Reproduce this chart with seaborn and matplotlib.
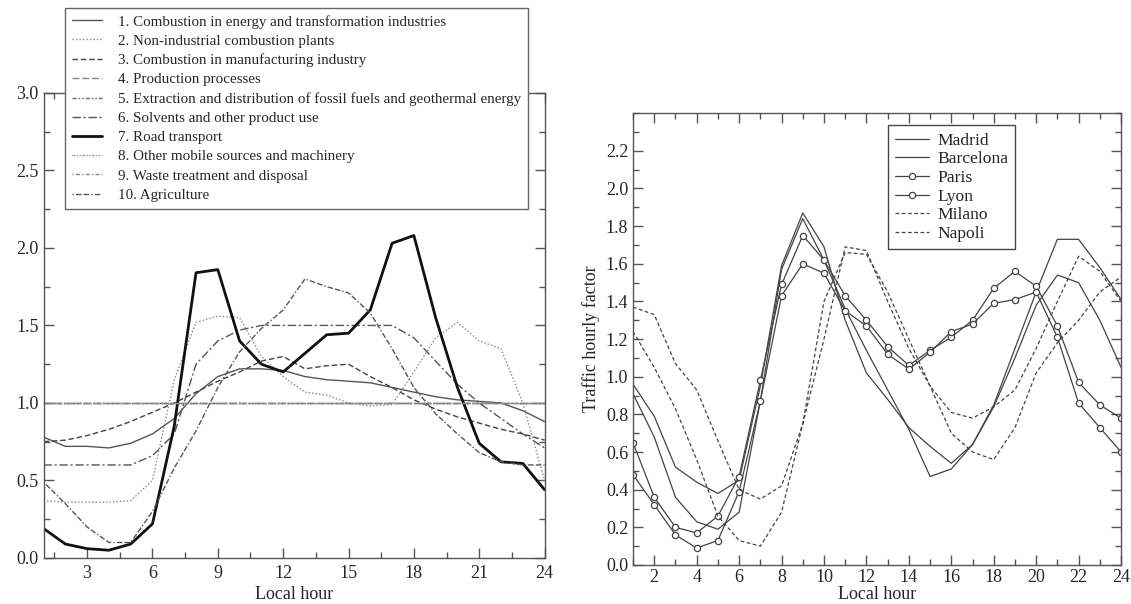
import numpy as np
import pandas as pd
import matplotlib.pyplot as plt
import seaborn as sns
from matplotlib.ticker import MultipleLocator

# ==========================================
# data
# ==========================================
hours = list(range(1, 25))

sector_names = [
    '1. Combustion in energy and transformation industries',
    '2. Non-industrial combustion plants',
    '3. Combustion in manufacturing industry',
    '4. Production processes',
    '5. Extraction and distribution of fossil fuels and geothermal energy',
    '6. Solvents and other product use',
    '7. Road transport',
    '8. Other mobile sources and machinery',
    '9. Waste treatment and disposal',
    '10. Agriculture',
]
energy = [0.78, 0.72, 0.72, 0.71, 0.74, 0.80, 0.90, 1.06, 1.17, 1.22, 1.22, 1.21,
          1.17, 1.15, 1.14, 1.13, 1.10, 1.07, 1.04, 1.02, 1.01, 1.00, 0.95, 0.88]
non_industrial = [0.37, 0.36, 0.36, 0.36, 0.37, 0.50, 1.15, 1.52, 1.56, 1.55, 1.30, 1.17,
                  1.07, 1.05, 1.00, 0.98, 0.99, 1.20, 1.42, 1.52, 1.40, 1.35, 1.00, 0.50]
manufacturing = [0.75, 0.76, 0.79, 0.83, 0.88, 0.94, 1.00, 1.07, 1.14, 1.20, 1.27, 1.30,
                 1.22, 1.24, 1.25, 1.17, 1.10, 1.02, 0.96, 0.91, 0.87, 0.83, 0.80, 0.76]
production = [1.0] * 24
extraction = [1.0] * 24
solvents = [0.60, 0.60, 0.60, 0.60, 0.60, 0.66, 0.80, 1.25, 1.40, 1.47, 1.50, 1.50,
            1.50, 1.50, 1.50, 1.50, 1.50, 1.42, 1.27, 1.12, 1.00, 0.90, 0.80, 0.71]
road = [0.19, 0.09, 0.06, 0.05, 0.09, 0.22, 0.85, 1.84, 1.86, 1.40, 1.25, 1.20,
        1.32, 1.44, 1.45, 1.60, 2.03, 2.08, 1.55, 1.10, 0.74, 0.62, 0.61, 0.44]
other_mobile = [1.0] * 24
waste = [1.0] * 24
agriculture = [0.49, 0.35, 0.20, 0.10, 0.10, 0.30, 0.58, 0.82, 1.10, 1.33, 1.48, 1.60,
               1.80, 1.75, 1.71, 1.58, 1.35, 1.10, 0.93, 0.80, 0.68, 0.62, 0.60, 0.60]

city_names = ['Madrid', 'Barcelona', 'Paris', 'Lyon', 'Milano', 'Napoli']
madrid = [0.96, 0.79, 0.52, 0.44, 0.38, 0.45, 0.95, 1.59, 1.87, 1.69, 1.30, 1.02,
          0.88, 0.73, 0.63, 0.54, 0.64, 0.85, 1.15, 1.45, 1.73, 1.73, 1.58, 1.41]
barcelona = [0.91, 0.68, 0.36, 0.23, 0.19, 0.28, 0.87, 1.57, 1.84, 1.62, 1.36, 1.14,
             0.93, 0.72, 0.47, 0.51, 0.64, 0.84, 1.10, 1.38, 1.54, 1.50, 1.30, 1.05]
paris = [0.65, 0.36, 0.20, 0.17, 0.26, 0.47, 0.98, 1.49, 1.75, 1.62, 1.43, 1.30,
         1.16, 1.06, 1.14, 1.21, 1.30, 1.47, 1.56, 1.48, 1.27, 0.97, 0.85, 0.78]
lyon = [0.48, 0.32, 0.16, 0.09, 0.13, 0.39, 0.87, 1.43, 1.60, 1.55, 1.35, 1.27,
        1.12, 1.04, 1.13, 1.24, 1.28, 1.39, 1.41, 1.45, 1.21, 0.86, 0.73, 0.60]
milano = [1.37, 1.33, 1.07, 0.93, 0.66, 0.40, 0.35, 0.42, 0.75, 1.20, 1.69, 1.67,
          1.40, 1.15, 0.95, 0.81, 0.78, 0.84, 0.93, 1.15, 1.40, 1.64, 1.56, 1.40]
napoli = [1.24, 1.05, 0.83, 0.56, 0.26, 0.13, 0.10, 0.28, 0.75, 1.40, 1.66, 1.65,
          1.45, 1.20, 0.95, 0.70, 0.60, 0.56, 0.73, 1.02, 1.18, 1.30, 1.45, 1.53]

sectors = [energy, non_industrial, manufacturing, production, extraction,
           solvents, road, other_mobile, waste, agriculture]
cities = [madrid, barcelona, paris, lyon, milano, napoli]

# ==========================================
# styles
# ==========================================
sns.set_style('ticks')
plt.rcParams['font.family'] = ['Liberation Serif', 'DejaVu Serif']

sector_styles = [
    dict(color='#555555', ls='-', lw=1.0),
    dict(color='#888888', ls=(0, (1, 1.5)), lw=1.0),
    dict(color='#444444', ls=(0, (4, 2)), lw=1.0),
    dict(color='#888888', ls=(0, (5, 2)), lw=1.0),
    dict(color='#666666', ls=(0, (3, 1.5, 1, 1.5, 1, 1.5)), lw=1.0),
    dict(color='#555555', ls=(0, (6, 2, 1.5, 2)), lw=1.0),
    dict(color='#111111', ls='-', lw=2.0),
    dict(color='#999999', ls=(0, (2, 1, 1, 1, 1, 1)), lw=1.0),
    dict(color='#888888', ls=(0, (1, 1.5, 3, 1.5)), lw=1.0),
    dict(color='#555555', ls=(0, (1, 1.5, 4, 1.5, 4, 1.5)), lw=1.0),
]
city_styles = [
    dict(color='#444444', ls='-', lw=0.9),
    dict(color='#444444', ls='-', lw=0.9),
    dict(color='#444444', ls='-', lw=0.9, marker='o', ms=4.5, mfc='white', mec='#444444', mew=0.9),
    dict(color='#444444', ls='-', lw=0.9, marker='o', ms=4.5, mfc='white', mec='#444444', mew=0.9),
    dict(color='#444444', ls=(0, (3, 2)), lw=0.9),
    dict(color='#444444', ls=(0, (3, 2)), lw=0.9),
]

fig = plt.figure(figsize=(11.31, 6.04), dpi=100)
ax1 = fig.add_axes([0.0385, 0.0762, 0.443, 0.770])
ax2 = fig.add_axes([0.5597, 0.0646, 0.4315, 0.748])

# left panel
for name, vals, st in zip(sector_names, sectors, sector_styles):
    df = pd.DataFrame({'hour': hours, 'factor': vals})
    sns.lineplot(data=df, x='hour', y='factor', ax=ax1, label=name,
                 color=st['color'], linestyle=st['ls'], linewidth=st['lw'])

ax1.set_xlim(1, 24)
ax1.set_ylim(0, 3.0)
ax1.set_xticks([3, 6, 9, 12, 15, 18, 21, 24])
ax1.xaxis.set_minor_locator(MultipleLocator(1.5))
ax1.set_yticks(np.arange(0, 3.01, 0.5))
ax1.set_yticklabels([f'{v:.1f}' for v in np.arange(0, 3.01, 0.5)])
ax1.yaxis.set_minor_locator(MultipleLocator(0.25))
ax1.set_xlabel('Local hour', fontsize=13, labelpad=3)
ax1.set_ylabel('')
h1, l1 = ax1.get_legend_handles_labels()
ax1.get_legend().remove()
fig.legend(h1, l1, loc='upper left', bbox_to_anchor=(65 / 1131, 1 - 8 / 604),
           borderaxespad=0, fontsize=10.8, frameon=True, fancybox=False,
           edgecolor='#666666', framealpha=1, handlelength=2.0,
           labelspacing=0.38, borderpad=0.45, handletextpad=1.1)

# right panel
for name, vals, st in zip(city_names, cities, city_styles):
    df = pd.DataFrame({'hour': hours, 'factor': vals})
    extra = {k: st[k] for k in ('marker', 'ms', 'mfc', 'mec', 'mew') if k in st}
    sns.lineplot(data=df, x='hour', y='factor', ax=ax2, label=name,
                 color=st['color'], linestyle=st['ls'], linewidth=st['lw'], **extra)

ax2.set_xlim(1, 24)
ax2.set_ylim(0, 2.4)
ax2.xaxis.set_major_locator(MultipleLocator(2))
ax2.xaxis.set_minor_locator(MultipleLocator(1))
ax2.set_yticks(np.arange(0, 2.21, 0.2))
ax2.set_yticklabels([f'{v:.1f}' for v in np.arange(0, 2.21, 0.2)])
ax2.yaxis.set_minor_locator(MultipleLocator(0.1))
ax2.set_xlabel('Local hour', fontsize=13, labelpad=0)
ax2.set_ylabel('Traffic hourly factor', fontsize=13, labelpad=4)
h2, l2 = ax2.get_legend_handles_labels()
ax2.legend(h2, l2, loc='upper left', bbox_to_anchor=(0.523, 0.973),
           borderaxespad=0, fontsize=12.6, frameon=True, fancybox=False,
           edgecolor='#444444', framealpha=1, handlelength=1.9,
           labelspacing=0.14, borderpad=0.4, handletextpad=0.5)

for ax in (ax1, ax2):
    for sp in ax.spines.values():
        sp.set_visible(True)
        sp.set_color('#555555')
        sp.set_linewidth(1.0)
    ax.tick_params(which='both', direction='in', top=True, right=True,
                   color='#555555', labelsize=13)
    ax.tick_params(which='major', length=7, width=1.0)
    ax.tick_params(which='minor', length=4, width=1.0)
ax1.tick_params(axis='x', pad=5)
ax2.tick_params(axis='x', pad=3)

plt.savefig('out.png', dpi=100)
